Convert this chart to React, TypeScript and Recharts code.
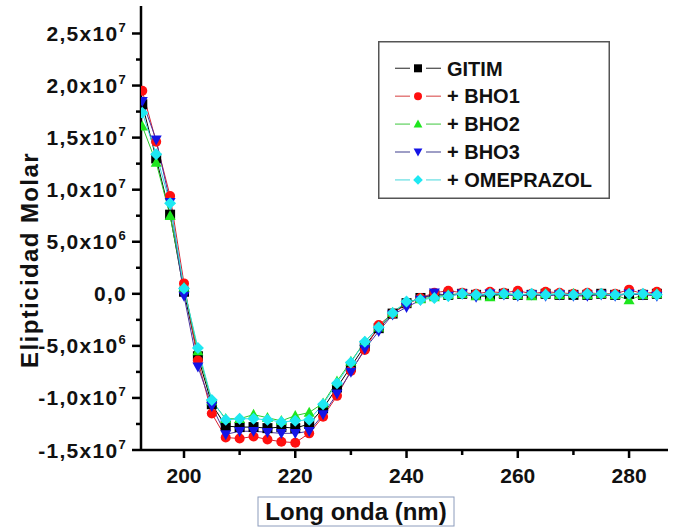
import { LineChart, Line, XAxis, YAxis, Legend } from "recharts"

// wavelength (nm) of the plotted markers
const wavelength = [
  192.5, 195, 197.5, 200, 202.5, 205, 207.5, 210, 212.5, 215, 217.5, 220, 222.5,
  225, 227.5, 230, 232.5, 235, 237.5, 240, 242.5, 245, 247.5, 250, 252.5, 255,
  257.5, 260, 262.5, 265, 267.5, 270, 272.5, 275, 277.5, 280, 282.5, 285,
]

// molar ellipticity in units of 10^6
const gitim = [
  18.2, 13.0, 7.6, 0.2, -6.0, -10.6, -12.7, -12.8, -12.8, -12.9, -12.8, -12.9, -12.5,
  -11.0, -9.0, -7.0, -5.0, -3.3, -1.9, -0.9, -0.4, -0.1, -0.1, 0.0, -0.1, -0.1,
  0.0, -0.1, -0.1, 0.0, -0.1, -0.1, -0.1, 0.0, -0.1, 0.0, -0.1, 0.0,
]
const bho1 = [
  19.5, 14.6, 9.4, 1.0, -6.4, -11.5, -13.8, -13.9, -13.7, -14.0, -14.2, -14.3, -13.4,
  -11.8, -9.8, -7.4, -5.4, -3.0, -1.9, -1.0, -0.4, 0.1, 0.3, 0.1, 0.0, 0.2,
  0.1, 0.3, 0.0, 0.2, 0.1, 0.0, 0.1, 0.0, 0.0, 0.4, 0.0, 0.2,
]
const bho2 = [
  16.1, 12.6, 7.5, 0.6, -5.5, -10.3, -12.0, -12.0, -11.6, -11.9, -12.2, -11.7, -11.4,
  -10.5, -8.4, -6.5, -4.6, -3.2, -1.8, -0.8, -0.5, -0.3, -0.1, 0.0, -0.2, -0.3,
  0.0, -0.1, -0.2, 0.0, -0.1, 0.0, -0.1, 0.0, -0.1, -0.6, -0.1, 0.0,
]
const bho3 = [
  18.5, 14.8, 8.8, -0.2, -7.0, -10.8, -13.5, -13.2, -13.2, -13.3, -13.4, -13.4, -13.2,
  -11.6, -9.6, -7.5, -5.3, -3.6, -2.0, -1.3, -0.6, 0.1, -0.2, 0.0, -0.3, 0.0,
  -0.1, -0.2, -0.1, -0.2, -0.1, -0.2, -0.2, -0.1, -0.2, 0.0, -0.1, -0.2,
]
const omeprazol = [
  17.4, 13.4, 8.7, 0.5, -5.2, -10.2, -12.1, -12.0, -12.0, -12.1, -12.3, -12.2, -12.1,
  -10.6, -8.6, -6.6, -4.6, -3.2, -1.85, -0.74, -0.58, -0.4, -0.2, 0.0, -0.1, 0.0,
  0.0, -0.1, 0.0, -0.1, 0.0, -0.1, 0.0, 0.0, -0.1, 0.0, 0.0, -0.1,
]

const xTicks = [200, 210, 220, 230, 240, 250, 260, 270, 280]
const yTicks = [
  -15e6, -12.5e6, -10e6, -7.5e6, -5e6, -2.5e6, 0, 2.5e6, 5e6, 7.5e6, 10e6,
  12.5e6, 15e6, 17.5e6, 20e6, 22.5e6, 25e6,
]

const UNIT = 1e6
const FONT = "'Liberation Sans', Arial, sans-serif"

const series = [
  { key: "gitim", name: "GITIM", values: gitim, line: "#000000", legendLine: "#555555", fill: "#000000", shape: "square" },
  { key: "bho1", name: "+ BHO1", values: bho1, line: "#d92030", legendLine: "#e06a6a", fill: "#ff1010", shape: "circle" },
  { key: "bho2", name: "+ BHO2", values: bho2, line: "#2ccc2c", legendLine: "#6ad46a", fill: "#1ee61e", shape: "up" },
  { key: "bho3", name: "+ BHO3", values: bho3, line: "#4a34a0", legendLine: "#6a6aa8", fill: "#1414e6", shape: "down" },
  { key: "omeprazol", name: "+ OMEPRAZOL", values: omeprazol, line: "#30d8e0", legendLine: "#70e0e4", fill: "#1ee8f2", shape: "diamond" },
]

const rows = wavelength.map((w, i) => {
  const row: Record<string, number> = { w }
  series.forEach((s) => {
    row[s.key] = s.values[i] * UNIT
  })
  return row
})

function Marker({ cx, cy, shape, color, size }: any) {
  if (cx == null || cy == null) return null
  const r = size / 2
  if (shape === "square") return <rect x={cx - r} y={cy - r} width={size} height={size} fill={color} />
  if (shape === "circle") return <circle cx={cx} cy={cy} r={r} fill={color} />
  if (shape === "up")
    return <polygon points={`${cx},${cy - r * 1.15} ${cx + r * 1.1},${cy + r * 0.85} ${cx - r * 1.1},${cy + r * 0.85}`} fill={color} />
  if (shape === "down")
    return <polygon points={`${cx},${cy + r * 1.15} ${cx + r * 1.1},${cy - r * 0.85} ${cx - r * 1.1},${cy - r * 0.85}`} fill={color} />
  return <polygon points={`${cx},${cy - r * 1.2} ${cx + r * 1.2},${cy} ${cx},${cy + r * 1.2} ${cx - r * 1.2},${cy}`} fill={color} />
}

const isMajorY = (v: number) => Math.abs(v / 5e6 - Math.round(v / 5e6)) < 1e-6
const isMajorX = (v: number) => v % 20 === 0

function yLabelParts(v: number) {
  if (v === 0) return { mant: "0,0", exp: "" }
  const exp = Math.floor(Math.log10(Math.abs(v)) + 1e-9)
  const mant = (v / Math.pow(10, exp)).toFixed(1).replace(".", ",")
  return { mant: `${mant}x10`, exp: String(exp) }
}

function LeftTick({ x, y, payload }: any) {
  const major = isMajorY(payload.value)
  const { mant, exp } = yLabelParts(payload.value)
  return (
    <g>
      <line x1={x} x2={x - (major ? 9 : 5)} y1={y} y2={y} stroke="#000" strokeWidth={2.5} />
      {major && (
        <text x={x - 14} y={y} dy="0.36em" textAnchor="end" fontFamily={FONT} fontWeight="bold" fontSize={21} letterSpacing={1.3} fill="#111">
          <tspan>{mant}</tspan>
          {exp && (
            <tspan dy={-9} fontSize={13}>
              {exp}
            </tspan>
          )}
        </text>
      )}
    </g>
  )
}

function RightTick({ x, y, payload }: any) {
  if (!isMajorY(payload.value)) return null
  return <line x1={x - 2} x2={x + 4} y1={y} y2={y} stroke="#333" strokeWidth={2} />
}

function BottomTick({ x, y, payload }: any) {
  const major = isMajorX(payload.value)
  return (
    <g>
      <line x1={x} x2={x} y1={y} y2={y + (major ? 8 : 5)} stroke="#000" strokeWidth={2.5} />
      {major && (
        <text x={x} y={y + 33} textAnchor="middle" fontFamily={FONT} fontWeight="bold" fontSize={21} fill="#111">
          {payload.value}
        </text>
      )}
    </g>
  )
}

function TopTick({ x, y, payload }: any) {
  const major = isMajorX(payload.value)
  return <line x1={x} x2={x} y1={y} y2={y + (major ? 8 : 6)} stroke="#000" strokeWidth={2.5} />
}

function XTitle({ viewBox }: any) {
  const cx = viewBox.x + 215
  const top = viewBox.y + 47
  return (
    <g>
      <rect x={cx - 98} y={top} width={196} height={29} fill="#fff" stroke="#8c9cbc" strokeWidth={1} />
      <text x={cx} y={top + 23} textAnchor="middle" fontFamily={FONT} fontWeight="bold" fontSize={24} fill="#111">
        Long onda (nm)
      </text>
    </g>
  )
}

function YTitle() {
  return (
    <text x={30} y={260} transform="rotate(-90 30 260)" textAnchor="middle" dy="0.35em" fontFamily={FONT} fontWeight="bold" fontSize={24} letterSpacing={1.4} fill="#111">
      Elipticidad Molar
    </text>
  )
}

function LegendBox() {
  return (
    <svg width={232} height={158} style={{ display: "block" }}>
      <rect x={0.75} y={0.75} width={230.5} height={156.5} fill="#fff" stroke="#555" strokeWidth={1.5} />
      {series.map((s, i) => {
        const cy = 27.3 + i * 27.9
        return (
          <g key={s.key}>
            <line x1={17} x2={32} y1={cy} y2={cy} stroke={s.legendLine} strokeWidth={1.3} />
            <line x1={48} x2={63} y1={cy} y2={cy} stroke={s.legendLine} strokeWidth={1.3} />
            <Marker cx={40} cy={cy} shape={s.shape} color={s.fill} size={8} />
            <text x={69} y={cy} dy="0.36em" fontFamily={FONT} fontWeight="bold" fontSize={20} fill="#111">
              {s.name}
            </text>
          </g>
        )
      })}
    </svg>
  )
}

export default function App() {
  return (
    <div style={{ position: "absolute", left: 0, top: 0, width: 676, height: 527, background: "#fff" }}>
      <LineChart width={676} height={527} data={rows} margin={{ top: 6, right: 8, left: 0, bottom: 0 }}>
        <XAxis
          xAxisId="bottom"
          dataKey="w"
          type="number"
          domain={[192.27, 287]}
          allowDataOverflow
          ticks={xTicks}
          interval={0}
          height={77}
          tickSize={0}
          tickMargin={0}
          tickLine={false}
          axisLine={{ stroke: "#000", strokeWidth: 2.5 }}
          tick={<BottomTick />}
          label={<XTitle />}
        />
        <XAxis
          xAxisId="top"
          orientation="top"
          dataKey="w"
          type="number"
          domain={[192.27, 287]}
          allowDataOverflow
          ticks={xTicks}
          interval={0}
          height={0}
          tickSize={0}
          tickMargin={0}
          tickLine={false}
          axisLine={{ stroke: "#000", strokeWidth: 2.5 }}
          tick={<TopTick />}
        />
        <YAxis
          yAxisId="left"
          type="number"
          domain={[-15e6, 27.64e6]}
          allowDataOverflow
          ticks={yTicks}
          interval={0}
          width={141}
          tickSize={0}
          tickMargin={0}
          tickLine={false}
          axisLine={{ stroke: "#000", strokeWidth: 2.5 }}
          tick={<LeftTick />}
          label={<YTitle />}
        />
        <YAxis
          yAxisId="right"
          orientation="right"
          type="number"
          domain={[-15e6, 27.64e6]}
          allowDataOverflow
          ticks={yTicks}
          interval={0}
          width={0}
          tickSize={0}
          tickMargin={0}
          tickLine={false}
          axisLine={false}
          tick={<RightTick />}
        />
        <Legend
          layout="vertical"
          align="center"
          verticalAlign="middle"
          content={<LegendBox />}
          wrapperStyle={{ left: 378, top: 41, width: 232, height: 158 }}
        />
        {series.map((s) => (
          <Line
            key={s.key}
            xAxisId="bottom"
            yAxisId="left"
            dataKey={s.key}
            name={s.name}
            type="linear"
            stroke={s.line}
            strokeWidth={1}
            isAnimationActive={false}
            dot={(p: any) => <Marker key={`${s.key}-${p.index}`} cx={p.cx} cy={p.cy} shape={s.shape} color={s.fill} size={10} />}
            activeDot={false}
          />
        ))}
      </LineChart>
    </div>
  )
}
